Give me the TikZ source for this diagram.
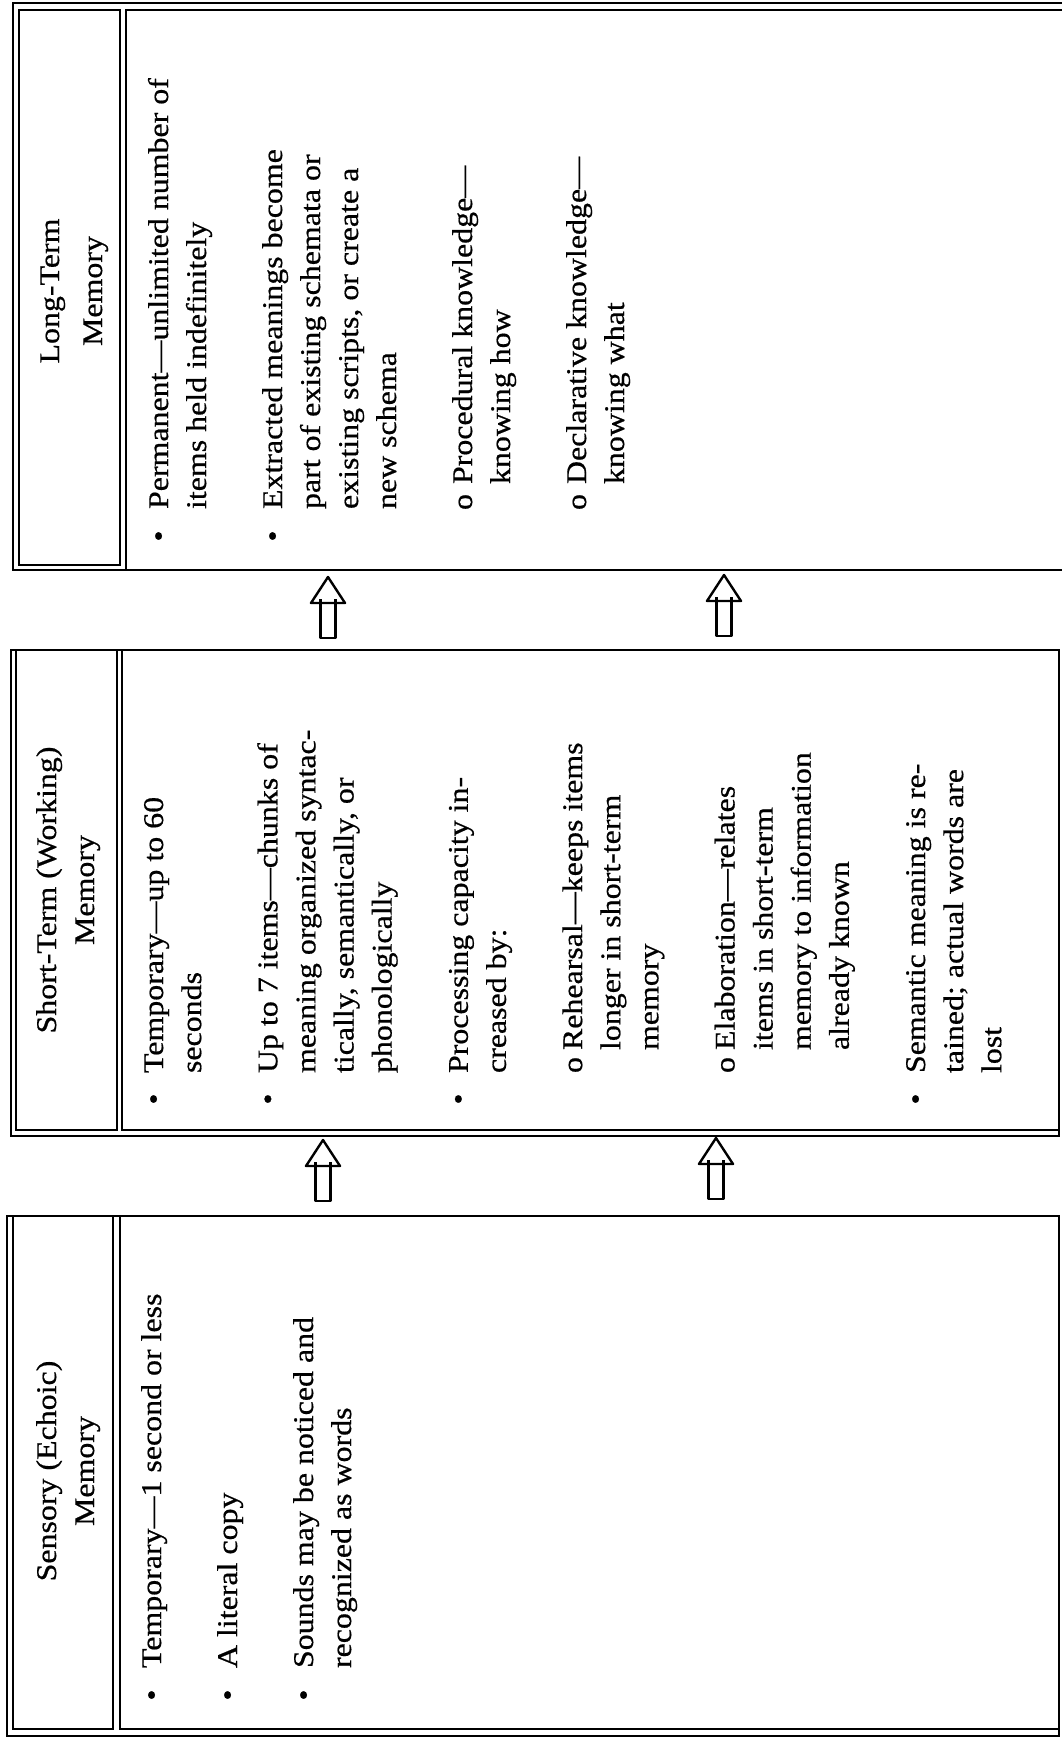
\documentclass[tikz,border=0pt]{standalone}
\usepackage{fontspec}
\newfontfamily\memfont[FakeStretch=1.12,FakeBold=0.6]{Liberation Serif}
\tikzset{
  txt/.style={rotate=90, anchor=base west, inner sep=0pt, outer sep=0pt,
    font=\memfont\fontsize{28.5pt}{38pt}\selectfont},
  bul/.style={txt, anchor=base},
  ttl/.style={txt, anchor=base},
  outerbox/.style={draw, line width=2.2pt},
  innerbox/.style={draw, line width=1.3pt},
  uparrow/.pic={
    \draw[line width=2.4pt, line join=round, fill=white] (0,0) -- (-17,26) -- (17,26) -- cycle;
    \draw[line width=2.2pt, line join=round] (-7.5,22) -- (-7.5,61) -- (7.5,61) -- (7.5,22);
  }
}
\begin{document}
\begin{tikzpicture}[x=1pt,y=-1pt]
\useasboundingbox (0,0) rectangle (1061,1741);

% ---------- Long-Term box (top) ----------
\coordinate (LTnw) at (13,3);
\draw[outerbox] (1075,3) -- (LTnw) -- (13,570) -- (1075,570);
\draw[innerbox] (19,10) rectangle (120,565);
\draw[innerbox] (1075,10) -- (126,10) -- (126,570);
\node[ttl] (lttitle1) at (59,291) {Long-Term};
\node[ttl] (lttitle2) at (102,291) {Memory};

\foreach \k/\y/\t [count=\i] in {
  0/509/{Permanent—unlimited number of},
  1/509/{items held indefinitely},
  3/509/{Extracted meanings become},
  4/509/{part of existing schemata or},
  5/509/{existing scripts, or create a},
  6/509/{new schema},
  8/484/{Procedural knowledge—},
  9/484/{knowing how},
  11/484/{Declarative knowledge—},
  12/484/{knowing what}}
  \node[txt] (ltl\i) at (168+38*\k,\y) {\t};
\foreach \k/\y/\b [count=\i] in {0/536/•,3/536/•,8/502/o,11/502/o}
  \node[bul] (ltb\i) at (168+38*\k,\y) {\b};

% ---------- Short-Term box (middle) ----------
\draw[outerbox] (11,650) rectangle (1059,1136);
\draw[innerbox] (16,650) rectangle (117,1130);
\draw[innerbox] (122,650) rectangle (1059,1130);
\node[ttl] (sttitle1) at (56,890) {Short-Term (Working)};
\node[ttl] (sttitle2) at (94,890) {Memory};

\foreach \k/\y/\t [count=\i] in {
  0/1073/{Temporary—up to 60},
  1/1073/{seconds},
  3/1073/{Up to 7 items—chunks of},
  4/1073/{meaning organized syntac-},
  5/1073/{tically, semantically, or},
  6/1073/{phonologically},
  8/1073/{Processing capacity in-},
  9/1073/{creased by:},
  11/1050/{Rehearsal—keeps items},
  12/1050/{longer in short-term},
  13/1050/{memory},
  15/1050/{Elaboration—relates},
  16/1050/{items in short-term},
  17/1050/{memory to information},
  18/1050/{already known},
  20/1073/{Semantic meaning is re-},
  21/1073/{tained; actual words are},
  22/1073/{lost}}
  \node[txt] (stl\i) at (163+38.1*\k,\y) {\t};
\foreach \k/\y/\b [count=\i] in {0/1099/•,3/1099/•,8/1099/•,11/1065/o,15/1065/o,20/1099/•}
  \node[bul] (stb\i) at (163+38.1*\k,\y) {\b};

% ---------- Sensory box (bottom) ----------
\draw[outerbox] (7,1216) rectangle (1059,1736);
\draw[innerbox] (13,1216) rectangle (113,1729);
\draw[innerbox] (120,1216) rectangle (1059,1729);
\node[ttl] (setitle1) at (56,1471) {Sensory (Echoic)};
\node[ttl] (setitle2) at (94,1471) {Memory};

\foreach \k/\t [count=\i] in {
  0/{Temporary—1 second or less},
  2/{A literal copy},
  4/{Sounds may be noticed and},
  5/{recognized as words}}
  \node[txt] (sel\i) at (161+38*\k,1668) {\t};
\foreach \k [count=\i] in {0,2,4}
  \node[bul] (seb\i) at (161+38*\k,1695) {•};

% ---------- arrows ----------
\coordinate (a1) at (328,577);
\coordinate (a2) at (724,575);
\coordinate (b1) at (323,1140);
\coordinate (b2) at (716,1138);
\pic at (a1) {uparrow};
\pic at (a2) {uparrow};
\pic at (b1) {uparrow};
\pic at (b2) {uparrow};
\end{tikzpicture}
\end{document}
